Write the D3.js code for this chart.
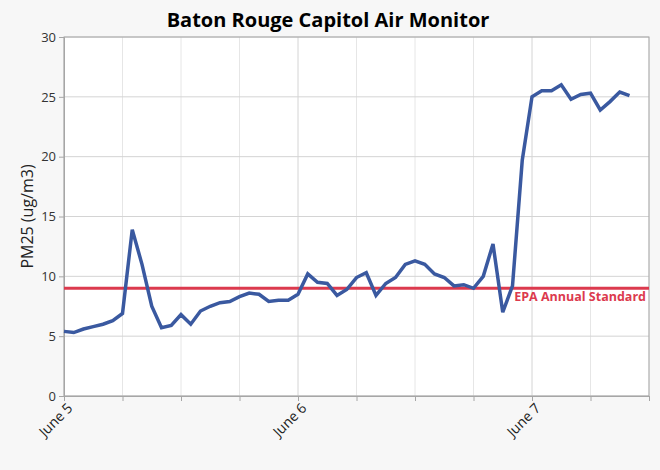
<!DOCTYPE html>
<html>
<head>
<meta charset="utf-8">
<script src="https://cdn.jsdelivr.net/npm/d3@7"></script>
<style>
  html, body { margin: 0; padding: 0; background: #f7f7f7; }
  svg { display: block; font-family: "Open Sans", "Noto Sans", sans-serif; }
</style>
</head>
<body>
<svg id="chart" width="660" height="470"></svg>
<script>
// ---- data ----
const startTime = "2024-06-05T00:00";
const hoursOffset = [0,1,2,3,4,5,6,7,8,9,10,11,12,13,14,15,16,17,18,19,20,21,22,23,24,25,26,27,28,29,30,31,32,33,34,35,36,37,38,39,40,41,42,43,44,45,46,47,48,49,50,51,52,53,54,55,56,57,58];
const pm25 = [5.4,5.3,5.6,5.8,6.0,6.3,6.9,13.9,11.0,7.5,5.7,5.9,6.8,6.0,7.1,7.5,7.8,7.9,8.3,8.6,8.5,7.9,8.0,8.0,8.5,10.2,9.5,9.4,8.4,8.9,9.9,10.3,8.4,9.4,9.9,11.0,11.3,11.0,10.2,9.9,9.2,9.3,9.0,10.0,12.7,7.0,9.2,19.7,25.0,25.5,25.5,26.0,24.8,25.2,25.3,23.9,24.6,25.4,25.1];
const yTicks = [0,5,10,15,20,25,30];
const xTickLabels = ["June 5","June 6","June 7"];
const epaStandard = 9;
const epaLabel = "EPA Annual Standard";
const titleText = "Baton Rouge Capitol Air Monitor";
const yLabelText = "PM25 (ug/m3)";

// ---- layout ----
const svg = d3.select("#chart");
const margin = {left: 64, right: 11, top: 37, bottom: 74};
const W = 660, H = 470;
const iw = W - margin.left - margin.right;
const ih = H - margin.top - margin.bottom;
const FONT = "'Open Sans', 'Noto Sans', sans-serif";

const t0 = new Date(startTime);
const hour = 3600 * 1000;
const data = hoursOffset.map((h, i) => ({t: new Date(t0.getTime() + h * hour), v: pm25[i]}));

const x = d3.scaleTime()
  .domain([t0, new Date(t0.getTime() + 60 * hour)])
  .range([margin.left, margin.left + iw]);
const y = d3.scaleLinear().domain([0, 30]).range([margin.top + ih, margin.top]);

const majorTicks = xTickLabels.map((_, i) => new Date(t0.getTime() + i * 24 * hour));
const minorTicks = d3.range(0, 61, 6).map(h => new Date(t0.getTime() + h * hour));

// plot background
svg.append("rect")
  .attr("x", margin.left).attr("y", margin.top)
  .attr("width", iw).attr("height", ih)
  .attr("fill", "#ffffff");

// vertical grid (6-hourly)
svg.append("g").selectAll("line").data(minorTicks).join("line")
  .attr("x1", d => x(d)).attr("x2", d => x(d))
  .attr("y1", margin.top).attr("y2", margin.top + ih)
  .attr("stroke", d => (d.getHours() === 0 ? "#d4d4d4" : "#e6e6e6"))
  .attr("stroke-width", 1);

// horizontal grid
svg.append("g").selectAll("line").data(yTicks).join("line")
  .attr("x1", margin.left).attr("x2", margin.left + iw)
  .attr("y1", d => y(d)).attr("y2", d => y(d))
  .attr("stroke", "#d4d4d4").attr("stroke-width", 1);

// plot frame
svg.append("rect")
  .attr("x", margin.left).attr("y", margin.top)
  .attr("width", iw).attr("height", ih)
  .attr("fill", "none").attr("stroke", "#a6a6a6").attr("stroke-width", 1);

// y axis
const yAxis = svg.append("g")
  .attr("transform", `translate(${margin.left},0)`)
  .call(d3.axisLeft(y).tickValues(yTicks).tickSize(5).tickPadding(3));
yAxis.attr("font-size", null).attr("font-family", null);
yAxis.select(".domain").attr("stroke", "#a6a6a6");
yAxis.selectAll(".tick line").attr("stroke", "#a6a6a6");
yAxis.selectAll(".tick text").attr("fill", "#333")
  .attr("font-size", 13).attr("font-family", FONT);

// x axis (minor ticks)
const xAxisMinor = svg.append("g")
  .attr("transform", `translate(0,${margin.top + ih})`)
  .call(d3.axisBottom(x).tickValues(minorTicks).tickSize(5).tickFormat(""));
xAxisMinor.select(".domain").attr("stroke", "#a6a6a6");
xAxisMinor.selectAll(".tick line").attr("stroke", "#a6a6a6");

// x axis labels
const xAxis = svg.append("g")
  .attr("transform", `translate(0,${margin.top + ih})`)
  .call(d3.axisBottom(x).tickValues(majorTicks).tickSize(0)
    .tickFormat((d, i) => xTickLabels[i]));
xAxis.attr("font-size", null).attr("font-family", null);
xAxis.select(".domain").remove();
xAxis.selectAll(".tick text")
  .attr("fill", "#222")
  .attr("font-size", 14)
  .attr("font-family", FONT)
  .attr("text-anchor", "end")
  .attr("dy", null)
  .attr("y", 0)
  .attr("transform", "translate(9,13) rotate(-45)");

// EPA standard line
svg.append("line")
  .attr("x1", margin.left).attr("x2", margin.left + iw)
  .attr("y1", y(epaStandard)).attr("y2", y(epaStandard))
  .attr("stroke", "#dc3a4e").attr("stroke-width", 3);

// data line
const line = d3.line().x(d => x(d.t)).y(d => y(d.v));
svg.append("path").datum(data)
  .attr("d", line)
  .attr("fill", "none")
  .attr("stroke", "#3a59a0")
  .attr("stroke-width", 3.5)
  .attr("stroke-linejoin", "miter");

// EPA label
svg.append("text")
  .attr("x", margin.left + iw - 3).attr("y", y(epaStandard) + 12.5)
  .attr("text-anchor", "end")
  .attr("fill", "#dc3a4e")
  .attr("font-size", 12.5).attr("font-weight", "bold")
  .attr("font-family", FONT)
  .text(epaLabel);

// title
svg.append("text")
  .attr("x", 328).attr("y", 27)
  .attr("text-anchor", "middle")
  .attr("fill", "#000")
  .attr("font-size", 20).attr("font-weight", "bold")
  .attr("font-family", FONT)
  .text(titleText);

// y label
svg.append("text")
  .attr("transform", `translate(33,${margin.top + ih / 2}) rotate(-90)`)
  .attr("text-anchor", "middle")
  .attr("fill", "#222")
  .attr("font-size", 16)
  .attr("font-family", FONT)
  .text(yLabelText);
</script>
</body>
</html>
